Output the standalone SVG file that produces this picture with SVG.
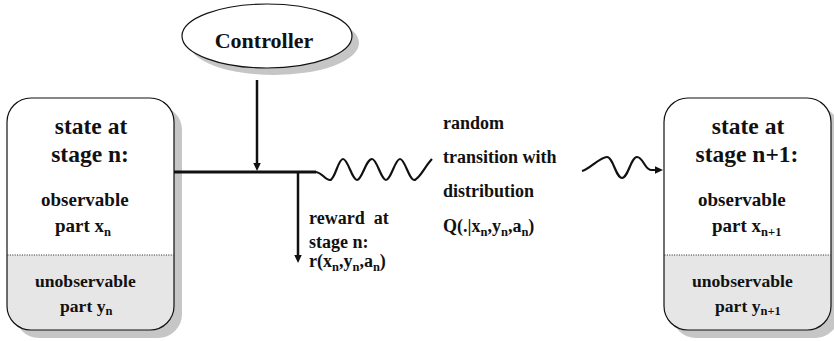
<svg xmlns="http://www.w3.org/2000/svg" width="834" height="341" viewBox="0 0 834 341">
<style>
.title{font-size:23.5px}
.body{font-size:19px}
.body2{font-size:17.6px}
.lbl{font-size:18px}
.sub{font-size:12.5px}
.divider{stroke:#222;stroke-width:1;stroke-dasharray:1 1.4;fill:none}
.wire{stroke:#111;stroke-width:3;fill:none}
.arrow{stroke:#111;stroke-width:2.5;fill:none}
.wave{stroke:#111;stroke-width:2.2;fill:none}
</style>
<defs>
<marker id="ah" markerUnits="userSpaceOnUse" markerWidth="9" markerHeight="8" refX="1" refY="3.75" orient="auto"><path d="M0,0 L8,3.75 L0,7.5 z" fill="#111"/></marker>
</defs>

<g font-family="'Liberation Serif', 'Times New Roman', serif" font-weight="bold" fill="#111">

<g id="controller">
<ellipse cx="274" cy="43" rx="85" ry="32" fill="#c6c6c6"/>
<ellipse cx="267" cy="36" rx="85" ry="32" fill="#fff" stroke="#111" stroke-width="1.2"/>
<text x="264" y="48" text-anchor="middle" font-size="22">Controller</text>
</g>

<g id="state-n">
<rect x="15" y="106" width="167" height="232" rx="24" fill="#c6c6c6"/>
<rect x="7" y="98" width="167" height="232" rx="24" fill="#fff"/>
<path d="M7,255 H174 V306 A24,24 0 0 1 150,330 H31 A24,24 0 0 1 7,306 Z" fill="#e6e6e6"/>
<rect x="7" y="98" width="167" height="232" rx="24" fill="none" stroke="#111" stroke-width="1.2"/>
<line class="divider" x1="7.5" y1="255" x2="173.5" y2="255"/>
<text class="title" x="91" y="134" text-anchor="middle">state at</text>
<text class="title" x="90" y="162" text-anchor="middle">stage n:</text>
<text class="body" x="41" y="206">observable</text>
<text class="body" x="55" y="232">part x<tspan class="sub" dy="4">n</tspan></text>
<text class="body2" x="35" y="287">unobservable</text>
<text class="body2" x="60" y="312">part y<tspan class="sub" dy="3">n</tspan></text>
</g>

<g id="state-n1">
<rect x="672" y="106" width="167" height="232" rx="24" fill="#c6c6c6"/>
<rect x="664" y="98" width="167" height="232" rx="24" fill="#fff"/>
<path d="M664,255 H831 V306 A24,24 0 0 1 807,330 H688 A24,24 0 0 1 664,306 Z" fill="#e6e6e6"/>
<rect x="664" y="98" width="167" height="232" rx="24" fill="none" stroke="#111" stroke-width="1.2"/>
<line class="divider" x1="664.5" y1="255" x2="830.5" y2="255"/>
<text class="title" x="748" y="134" text-anchor="middle">state at</text>
<text class="title" x="747" y="162" text-anchor="middle">stage n+1:</text>
<text class="body" x="698" y="206">observable</text>
<text class="body" x="712" y="232">part x<tspan class="sub" dy="4">n+1</tspan></text>
<text class="body2" x="692" y="287">unobservable</text>
<text class="body2" x="715" y="312">part y<tspan class="sub" dy="3">n+1</tspan></text>
</g>

<g id="connectors">
<line class="wire" x1="174" y1="172" x2="316" y2="172"/>
<line class="arrow" x1="257" y1="80" x2="257" y2="164" marker-end="url(#ah)"/>
<line class="arrow" x1="298" y1="172" x2="298" y2="256" marker-end="url(#ah)"/>
<path class="wave" d="M315,172 C322,172 325,180 330,180 C335,180 338,159 343,159 C348,159 352,180 357,180 C362,180 366,159 372,159 C377,159 381,180 386,180 C391,180 395,159 400,159 C405,159 409,180 414,180 C419,180 425,166 432,159"/>
<path class="wave" d="M582,171 C590,169 600,157 607,157 C613,157 616,178 622,178 C628,178 631,157 637,157 C643,157 645,170 651,170 L656,170" marker-end="url(#ah)"/>
</g>

<g id="reward-label">
<text class="lbl" x="309" y="224" xml:space="preserve">reward  at</text>
<text class="lbl" x="309" y="248">stage n:</text>
<text class="lbl" x="309" y="267">r(x<tspan class="sub" dy="4">n</tspan><tspan dy="-4">,y</tspan><tspan class="sub" dy="4">n</tspan><tspan dy="-4">,a</tspan><tspan class="sub" dy="4">n</tspan><tspan dy="-4">)</tspan></text>
</g>

<g id="transition-label">
<text class="lbl" x="443" y="129">random</text>
<text class="lbl" x="443" y="163">transition with</text>
<text class="lbl" x="443" y="197">distribution</text>
<text class="lbl" x="443" y="232">Q(.|x<tspan class="sub" dy="4">n</tspan><tspan dy="-4">,y</tspan><tspan class="sub" dy="4">n</tspan><tspan dy="-4">,a</tspan><tspan class="sub" dy="4">n</tspan><tspan dy="-4">)</tspan></text>
</g>

</g>
</svg>
